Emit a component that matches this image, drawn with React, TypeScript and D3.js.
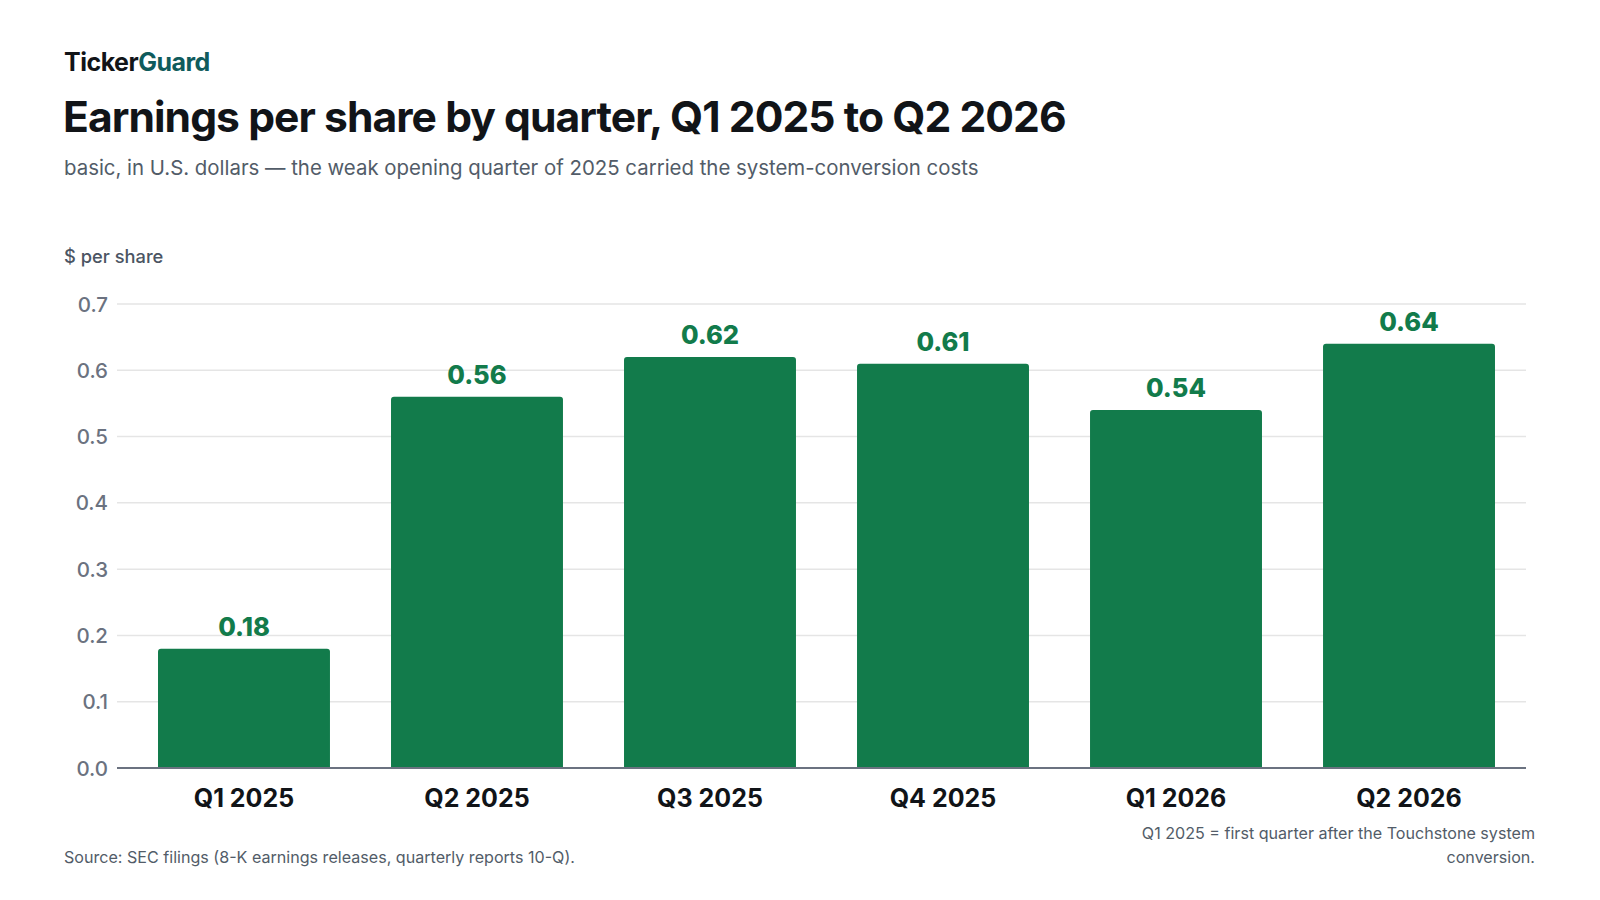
import React, { useEffect, useRef } from "react";
import * as d3 from "d3";

const quarters = ["Q1 2025", "Q2 2025", "Q3 2025", "Q4 2025", "Q1 2026", "Q2 2026"];
const eps = [0.18, 0.56, 0.62, 0.61, 0.54, 0.64];
const yTicks = [0, 0.1, 0.2, 0.3, 0.4, 0.5, 0.6, 0.7];

const W = 1600;
const H = 900;
const FONT = "Inter, 'Noto Sans', sans-serif";
const GREEN = "#127b4b";

const App = () => {
  const svgRef = useRef<SVGSVGElement>(null);

  useEffect(() => {
    const svg = d3.select(svgRef.current);
    svg.selectAll("*").remove();
    svg.attr("width", W).attr("height", H).style("background", "white").style("font-family", FONT);

    const left = 117;
    const right = 1526;
    const top = 304;
    const bottom = 768;

    const x = d3.scaleBand<string>().domain(quarters).range([left, 1536]).paddingInner(0.262).paddingOuter(0.176);
    const y = d3.scaleLinear().domain([0, 0.7]).range([bottom, top]);

    // header
    const brand = svg.append("text").attr("x", 64).attr("y", 71).attr("font-size", 25).attr("font-weight", 700).attr("letter-spacing", -0.5);
    brand.append("tspan").attr("fill", "#111418").text("Ticker");
    brand.append("tspan").attr("fill", "#0f5b5c").text("Guard");

    svg.append("text").attr("x", 63).attr("y", 132).attr("font-size", 42.6).attr("font-weight", 700)
      .attr("letter-spacing", -0.95).attr("fill", "#111418")
      .text("Earnings per share by quarter, Q1 2025 to Q2 2026");

    svg.append("text").attr("x", 64).attr("y", 175).attr("font-size", 20.4).attr("fill", "#525c68")
      .text("basic, in U.S. dollars — the weak opening quarter of 2025 carried the system-conversion costs");

    svg.append("text").attr("x", 64).attr("y", 263).attr("font-size", 18.3).attr("font-weight", 500).attr("fill", "#4b5563")
      .text("$ per share");

    // grid + y ticks
    const g = svg.append("g");
    g.selectAll("line.grid").data(yTicks.filter((t) => t > 0)).join("line")
      .attr("x1", left).attr("x2", right)
      .attr("y1", (d) => y(d)).attr("y2", (d) => y(d))
      .attr("stroke", "#e5e5e5").attr("stroke-width", 1.5);

    g.selectAll("text.tick").data(yTicks).join("text")
      .attr("x", 108).attr("y", (d) => y(d) + 7.5)
      .attr("text-anchor", "end").attr("font-size", 20.5).attr("font-weight", 500).attr("fill", "#6b7280")
      .text((d) => d3.format(".1f")(d));

    // bars
    const barPath = (d: number, i: number) => {
      const x0 = x(quarters[i])!;
      const w = x.bandwidth();
      const y0 = y(d);
      const r = 3;
      return `M${x0},${bottom}V${y0 + r}Q${x0},${y0} ${x0 + r},${y0}H${x0 + w - r}Q${x0 + w},${y0} ${x0 + w},${y0 + r}V${bottom}Z`;
    };
    svg.append("g").selectAll("path").data(eps).join("path")
      .attr("d", (d, i) => barPath(d, i)).attr("fill", GREEN);

    svg.append("g").selectAll("text").data(eps).join("text")
      .attr("x", (d, i) => x(quarters[i])! + x.bandwidth() / 2)
      .attr("y", (d) => y(d) - 13)
      .attr("text-anchor", "middle").attr("font-size", 25.5).attr("font-weight", 800).attr("fill", GREEN)
      .text((d) => d3.format(".2f")(d));

    // baseline
    svg.append("line").attr("x1", left).attr("x2", right).attr("y1", bottom).attr("y2", bottom)
      .attr("stroke", "#6b7280").attr("stroke-width", 2);

    // x labels
    svg.append("g").selectAll("text").data(quarters).join("text")
      .attr("x", (d) => x(d)! + x.bandwidth() / 2).attr("y", 807)
      .attr("text-anchor", "middle").attr("font-size", 25).attr("font-weight", 700).attr("fill", "#111418")
      .text((d) => d);

    // footer
    svg.append("text").attr("x", 64).attr("y", 863).attr("font-size", 16.1).attr("fill", "#525c68")
      .text("Source: SEC filings (8-K earnings releases, quarterly reports 10-Q).");
    const note = svg.append("text").attr("text-anchor", "end").attr("font-size", 16.1).attr("fill", "#525c68");
    note.append("tspan").attr("x", 1535).attr("y", 839).text("Q1 2025 = first quarter after the Touchstone system");
    note.append("tspan").attr("x", 1535).attr("y", 863).text("conversion.");
  }, []);

  return (
    <div style={{ margin: -8 }}>
      <svg ref={svgRef} style={{ display: "block" }}></svg>
    </div>
  );
};

export default App;
